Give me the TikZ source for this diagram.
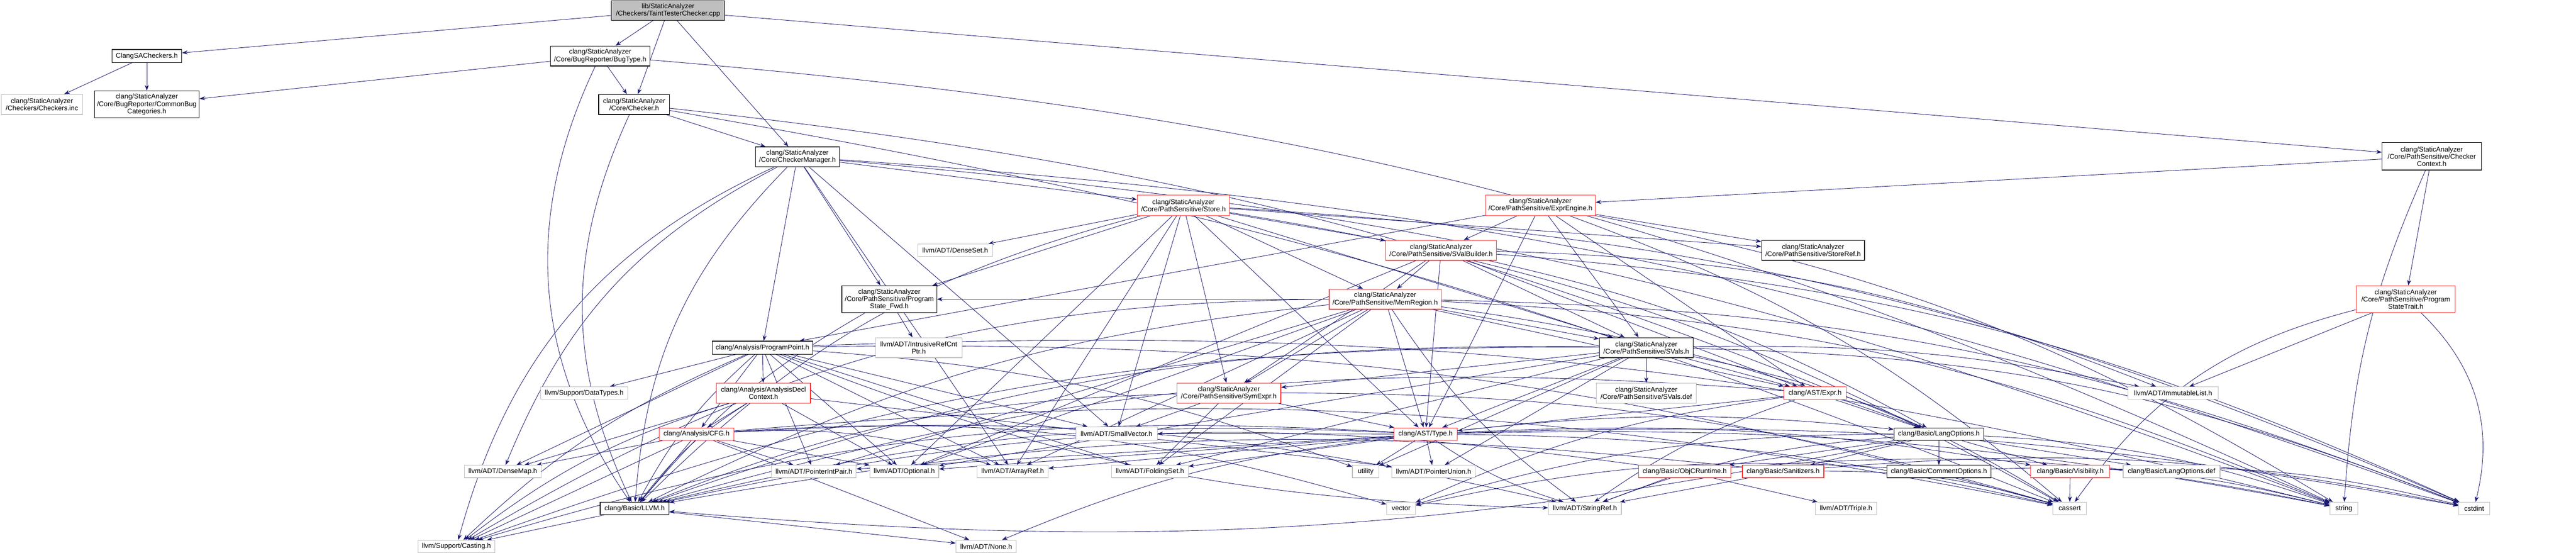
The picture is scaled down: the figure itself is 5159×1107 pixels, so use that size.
\documentclass[tikz,border=0pt]{standalone}
\usepackage{fontspec}
\setmainfont{Liberation Sans}
\usetikzlibrary{arrows.meta}
\pgfdeclarelayer{bg}
\pgfsetlayers{bg,main}
\definecolor{edgeblue}{HTML}{191970}
\definecolor{redb}{HTML}{FF3333}
\definecolor{grayb}{HTML}{BFBFBF}
\tikzset{
  box/.style={draw=black, line width=0.24pt, fill=white, inner sep=0.4pt, font=\fontsize{2.75}{2.9}\selectfont, align=center},
  redbox/.style={box, draw=redb},
  graybox/.style={box, draw=grayb},
  rootbox/.style={box, fill=grayb},
  edge/.style={draw=edgeblue, line width=0.18pt, -{Stealth[length=2.2pt,width=1.6pt]}}
}
\newcommand{\bx}[7]{\node[#1, minimum width=#4*0.2pt, minimum height=#5*0.2pt] (#2) at (#3) {#6};}
\begin{document}
\begin{tikzpicture}[x=0.2pt,y=-0.2pt]
\useasboundingbox (0,0) rectangle (5159,1107);
\bx{rootbox}{root}{1338,21}{227}{39}{lib/StaticAnalyzer\\/Checkers/TaintTesterChecker.cpp}{}
\bx{box}{csa}{294,112}{140}{26}{ClangSACheckers.h}{}
\bx{graybox}{inc}{84,209}{163}{40}{clang/StaticAnalyzer\\/Checkers/Checkers.inc}{}
\bx{box}{cbc}{294,209}{210}{54}{clang/StaticAnalyzer\\/Core/BugReporter/CommonBug\\Categories.h}{}
\bx{box}{bug}{1202,112}{199}{40}{clang/StaticAnalyzer\\/Core/BugReporter/BugType.h}{}
\bx{box}{chk}{1270,209}{142}{40}{clang/StaticAnalyzer\\/Core/Checker.h}{}
\bx{box}{cm}{1597,314}{168}{40}{clang/StaticAnalyzer\\/Core/CheckerManager.h}{}
\bx{redbox}{store}{2370,411}{185}{41}{clang/StaticAnalyzer\\/Core/PathSensitive/Store.h}{}
\bx{graybox}{dset}{1913,501}{150}{25}{llvm/ADT/DenseSet.h}{}
\bx{box}{psf}{1781,599}{190}{54}{clang/StaticAnalyzer\\/Core/PathSensitive/Program\\State\_Fwd.h}{}
\bx{graybox}{irc}{1840,696}{173}{40}{llvm/ADT/IntrusiveRefCnt\\Ptr.h}{}
\bx{box}{pp}{1527,696}{201}{26}{clang/Analysis/ProgramPoint.h}{}
\bx{redbox}{adc}{1529,787}{188}{40}{clang/Analysis/AnalysisDecl\\Context.h}{}
\bx{redbox}{cfg}{1395,869}{150}{25}{clang/Analysis/CFG.h}{}
\bx{graybox}{svec}{2236,868}{163}{27}{llvm/ADT/SmallVector.h}{}
\bx{redbox}{sym}{2461,787}{208}{40}{clang/StaticAnalyzer\\/Core/PathSensitive/SymExpr.h}{}
\bx{graybox}{pip}{1630,944}{169}{25}{llvm/ADT/PointerIntPair.h}{}
\bx{graybox}{opt}{1811,944}{138}{25}{llvm/ADT/Optional.h}{}
\bx{graybox}{aref}{2028,944}{143}{25}{llvm/ADT/ArrayRef.h}{}
\bx{graybox}{fset}{2303,944}{154}{25}{llvm/ADT/FoldingSet.h}{}
\bx{box}{llvm}{1271,1018}{138}{25}{clang/Basic/LLVM.h}{}
\bx{graybox}{none}{1975,1094}{121}{25}{llvm/ADT/None.h}{}
\bx{graybox}{cast}{914,1094}{154}{25}{llvm/Support/Casting.h}{}
\bx{graybox}{dmap}{1007,944}{154}{25}{llvm/ADT/DenseMap.h}{}
\bx{graybox}{dtyp}{1170,787}{174}{25}{llvm/Support/DataTypes.h}{}
\bx{redbox}{ee}{3085,411}{220}{41}{clang/StaticAnalyzer\\/Core/PathSensitive/ExprEngine.h}{}
\bx{redbox}{svb}{2886,501}{222}{40}{clang/StaticAnalyzer\\/Core/PathSensitive/SValBuilder.h}{}
\bx{box}{sref}{3631,501}{206}{40}{clang/StaticAnalyzer\\/Core/PathSensitive/StoreRef.h}{}
\bx{redbox}{mem}{2774,599}{224}{40}{clang/StaticAnalyzer\\/Core/PathSensitive/MemRegion.h}{}
\bx{box}{svals}{3297,696}{188}{40}{clang/StaticAnalyzer\\/Core/PathSensitive/SVals.h}{}
\bx{graybox}{sdef}{3297,787}{200}{40}{clang/StaticAnalyzer\\/Core/PathSensitive/SVals.def}{}
\bx{redbox}{expr}{3635,787}{125}{26}{clang/AST/Expr.h}{}
\bx{redbox}{type}{2855,869}{127}{25}{clang/AST/Type.h}{}
\bx{graybox}{util}{2735,944}{53}{25}{utility}{}
\bx{graybox}{punion}{2871,944}{167}{25}{llvm/ADT/PointerUnion.h}{}
\bx{redbox}{objc}{3374,944}{185}{25}{clang/Basic/ObjCRuntime.h}{}
\bx{redbox}{san}{3571,944}{163}{25}{clang/Basic/Sanitizers.h}{}
\bx{box}{copt}{3883,944}{209}{25}{clang/Basic/CommentOptions.h}{}
\bx{box}{lopt}{3883,869}{180}{25}{clang/Basic/LangOptions.h}{}
\bx{graybox}{vec}{2806,1018}{58}{25}{vector}{}
\bx{graybox}{sref2}{3174,1018}{146}{25}{llvm/ADT/StringRef.h}{}
\bx{graybox}{triple}{3697,1018}{123}{25}{llvm/ADT/Triple.h}{}
\bx{box}{cctx}{4870,313}{199}{55}{clang/StaticAnalyzer\\/Core/PathSensitive/Checker\\Context.h}{}
\bx{redbox}{pst}{4818,599}{198}{54}{clang/StaticAnalyzer\\/Core/PathSensitive/Program\\StateTrait.h}{}
\bx{graybox}{ilist}{4352,787}{180}{25}{llvm/ADT/ImmutableList.h}{}
\bx{redbox}{vis}{4146,944}{158}{25}{clang/Basic/Visibility.h}{}
\bx{graybox}{ldef}{4349,944}{194}{25}{clang/Basic/LangOptions.def}{}
\bx{graybox}{cassert}{4145,1018}{67}{25}{cassert}{}
\bx{graybox}{string}{4694,1018}{56}{25}{string}{}
\bx{graybox}{cstdint}{4955,1018}{62}{25}{cstdint}{}
\begin{pgfonlayer}{bg}
\foreach \a/\b in {root/csa,root/bug,root/chk,root/cm,root/cctx,
 csa/inc,csa/cbc,bug/cbc,bug/chk,chk/cm,
 cctx/ee,cctx/pst,pst/ilist,
 cm/store,cm/psf,cm/pp,cm/svec,cm/aref,
 ee/svb,ee/sref,ee/svals,ee/expr,ee/type,ee/pp,
 store/dset,store/psf,store/sref,store/svb,store/mem,store/svals,store/sym,store/type,store/opt,store/aref,store/svec,
 svb/mem,svb/svals,svb/sym,svb/type,svb/expr,svb/opt,
 mem/svals,mem/sym,mem/type,mem/expr,mem/fset,mem/pip,mem/opt,mem/aref,mem/psf,
 svals/sdef,svals/expr,svals/type,svals/sym,svals/punion,svals/fset,svals/opt,svals/util,
 expr/type,expr/lopt,
 type/util,type/punion,type/aref,type/fset,type/pip,type/opt,type/svec,
 pp/adc,pp/cfg,pp/pip,pp/opt,pp/aref,pp/fset,pp/svec,pp/dtyp,pp/dmap,
 adc/cfg,adc/dmap,adc/punion,adc/opt,
 cfg/pip,cfg/opt,cfg/dmap,cfg/llvm,cfg/none,cfg/cast,
 sym/svec,sym/fset,sym/type,
 psf/irc,llvm/cast,llvm/none,
 lopt/copt,lopt/objc,lopt/san,lopt/vis,lopt/ldef,
 objc/sref2,objc/triple,san/sref2,vis/cassert}
  \draw[edge] (\a) -- (\b);
\foreach \a/\b/\c in {bug/llvm/30,chk/llvm/25,chk/lopt/-8,cm/llvm/20,cm/cast/25,cm/dmap/20,cm/string/-8,cm/cstdint/-8,
 bug/string/-10,chk/cassert/-6,
 store/llvm/15,store/cassert/-10,store/cstdint/-10,svb/ilist/-10,svb/lopt/-8,svb/cstdint/-10,
 mem/llvm/10,mem/cast/15,mem/sref2/10,mem/string/-10,mem/cstdint/-10,mem/lopt/-6,
 svals/llvm/10,svals/cast/10,svals/cassert/-10,svals/cstdint/-10,svals/ilist/-6,
 type/llvm/8,type/cast/10,type/sref2/8,type/cassert/-6,type/cstdint/-6,type/string/-6,type/vis/-6,type/lopt/-6,type/none/8,
 pp/llvm/10,pp/cast/10,pp/sref2/10,pp/cassert/-8,pp/util/-8,pp/string/-8,
 adc/llvm/10,adc/cast/10,cfg/vec/-10,cfg/cassert/-8,cfg/sref2/-8,cfg/aref/-10,
 sym/llvm/10,sym/cassert/-8,expr/sref2/8,expr/vec/8,expr/llvm/10,
 lopt/llvm/-8,lopt/sref2/8,lopt/string/-8,lopt/vec/8,
 objc/llvm/10,objc/string/-8,san/cassert/-8,san/cstdint/-8,san/llvm/8,
 copt/string/-8,copt/vec/8,vis/cstdint/-8,ee/cassert/-10,ee/string/-10,
 pst/cstdint/-30,pst/cassert/20,psf/llvm/10,cctx/string/10}
  \draw[edge] (\a) to[bend right=\c] (\b);
\end{pgfonlayer}
\end{tikzpicture}
\end{document}
